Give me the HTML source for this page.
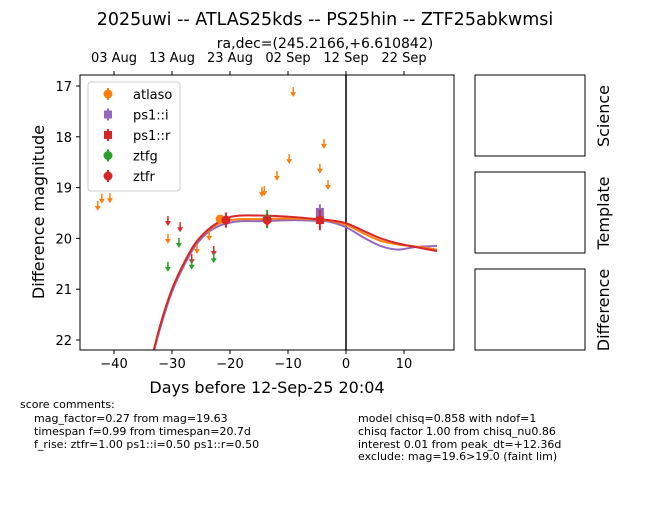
<!DOCTYPE html>
<html><head><meta charset="utf-8"><style>
body{margin:0;background:#fff;}
svg text{font-family:"DejaVu Sans","Liberation Sans",sans-serif;fill:#000;}
</style></head><body>
<svg id="chart" width="650" height="500" viewBox="0 0 650 500">
<text x="325" y="25" font-size="17.5" text-anchor="middle">2025uwi -- ATLAS25kds -- PS25hin -- ZTF25abkwmsi</text>
<text x="325" y="48" font-size="14" text-anchor="middle">ra,dec=(245.2166,+6.610842)</text>
<g id="plot"></g>
<rect x="80" y="75" width="374" height="275" fill="none" stroke="#000" stroke-width="1"/>
<text x="267" y="393" font-size="16" text-anchor="middle">Days before 12-Sep-25 20:04</text>
<text x="44" y="212" font-size="16" text-anchor="middle" transform="rotate(-90 44 212)">Difference magnitude</text>
<g>
<rect x="88" y="82" width="92" height="109" rx="3" fill="#fff" fill-opacity="0.8" stroke="#ccc"/>
</g>
<rect x="475" y="75" width="110" height="81" fill="none" stroke="#000"/>
<rect x="475" y="172" width="110" height="81" fill="none" stroke="#000"/>
<rect x="475" y="269" width="110" height="81" fill="none" stroke="#000"/>
<text x="609" y="116" font-size="16" text-anchor="middle" transform="rotate(-90 609 116)">Science</text>
<text x="609" y="213" font-size="16" text-anchor="middle" transform="rotate(-90 609 213)">Template</text>
<text x="609" y="310" font-size="16" text-anchor="middle" transform="rotate(-90 609 310)">Difference</text>
<g font-size="11">
<text x="20" y="408">score comments:</text>
<text x="34" y="422">mag_factor=0.27 from mag=19.63</text>
<text x="34" y="435">timespan f=0.99 from timespan=20.7d</text>
<text x="34" y="448">f_rise: ztfr=1.00 ps1::i=0.50 ps1::r=0.50</text>
<text x="358" y="422">model chisq=0.858 with ndof=1</text>
<text x="358" y="435">chisq factor 1.00 from chisq_nu0.86</text>
<text x="358" y="448">interest 0.01 from peak_dt=+12.36d</text>
<text x="358" y="460">exclude: mag=19.6&gt;19.0 (faint lim)</text>
</g>
</svg>
<script>
const xTicks=[-40,-30,-20,-10,0,10];
const yTicks=[17,18,19,20,21,22];
const topTickLabels=["03 Aug","13 Aug","23 Aug","02 Sep","12 Sep","22 Sep"];
const atlasLimDays=[-42.8,-42.1,-40.7,-30.7,-25.7,-23.6,-14.5,-14.1,-11.9,-9.8,-9.1,-4.5,-3.8,-3.1];
const atlasLimMags=[19.34,19.2,19.19,19.99,20.19,19.93,19.07,19.05,18.75,18.42,17.1,18.61,18.12,18.93];
const ztfrLimDays=[-30.7,-28.6,-26.6,-22.8];
const ztfrLimMags=[19.64,19.76,20.39,20.23];
const ztfgLimDays=[-30.7,-28.8,-26.6,-22.8];
const ztfgLimMags=[20.54,20.07,20.5,20.37];
const detDays=[-21.7,-20.7,-13.6,-13.6,-4.5,-4.5];
const detMags=[19.62,19.64,19.62,19.64,19.48,19.64];
const detErrs=[0.05,0.15,0.18,0.12,0.15,0.2];
const detBands=["atlaso","ztfr","ztfg","ztfr","ps1::i","ps1::r"];
const modelDays=[-34,-32,-30,-28,-26,-24,-22,-20,-18,-15,-12,-9,-6,-3,0,3,6,9,12,15.7];
const modelR=[22.6,21.7,21.0,20.5,20.1,19.85,19.68,19.58,19.55,19.55,19.56,19.58,19.61,19.64,19.7,19.85,20.0,20.1,20.17,20.25];
const modelO=[22.6,21.7,21.0,20.5,20.1,19.86,19.71,19.64,19.62,19.62,19.61,19.61,19.62,19.65,19.73,19.9,20.05,20.12,20.16,20.22];
const modelI=[22.6,21.75,21.05,20.55,20.15,19.9,19.76,19.69,19.66,19.66,19.65,19.64,19.65,19.67,19.78,19.98,20.15,20.22,20.17,20.15];
const colors={"atlaso":"#ff7f0e","ps1::i":"#9467bd","ps1::r":"#d62728","ztfg":"#2ca02c","ztfr":"#d62728"};
const X=d=>346+d*5.8, Y=m=>86+(m-17)*50.8;
const NS="http://www.w3.org/2000/svg";
const svg=document.getElementById('chart'), g=document.getElementById('plot');
function mk(tag,attrs,parent){const e=document.createElementNS(NS,tag);for(const k in attrs)e.setAttribute(k,attrs[k]);(parent||g).appendChild(e);return e;}
const defs=mk('defs',{},svg);const cp=mk('clipPath',{id:'clip'},defs);mk('rect',{x:80,y:75,width:374,height:275},cp);
g.setAttribute('clip-path','url(#clip)');
xTicks.forEach((t,i)=>{
 const l=mk('line',{x1:X(t),x2:X(t),y1:350,y2:354,stroke:'#000'},svg);
 
 
 const tx=mk('text',{x:X(t),y:368,'font-size':13,'text-anchor':'middle'},svg);tx.textContent=t<0?'\u2212'+(-t):t;
 
 
 const l2=mk('line',{x1:X(t),x2:X(t),y1:75,y2:71,stroke:'#000'},svg);
 
 
 const t2=mk('text',{x:X(t),y:62,'font-size':13,'text-anchor':'middle'},svg);t2.textContent=topTickLabels[i];
 
 
});
yTicks.forEach(t=>{
 const l=mk('line',{x1:76,x2:80,y1:Y(t),y2:Y(t),stroke:'#000'},svg);
 
 
 const tx=mk('text',{x:72,y:Y(t)+5,'font-size':13,'text-anchor':'end'},svg);tx.textContent=t;
 
 
});
const zl=mk('line',{x1:X(0),x2:X(0),y1:75,y2:350,stroke:'#000','stroke-width':1.5});


function curve(days,mags,col,name){
 const pts=days.map((d,i)=>[X(d),Y(mags[i])]);
 let dstr='M'+pts[0][0]+','+pts[0][1];
 for(let i=0;i<pts.length-1;i++){
  const p0=pts[Math.max(0,i-1)],p1=pts[i],p2=pts[i+1],p3=pts[Math.min(pts.length-1,i+2)];
  const c1=[p1[0]+(p2[0]-p0[0])/6,p1[1]+(p2[1]-p0[1])/6];
  const c2=[p2[0]-(p3[0]-p1[0])/6,p2[1]-(p3[1]-p1[1])/6];
  dstr+=` C${c1[0]},${c1[1]} ${c2[0]},${c2[1]} ${p2[0]},${p2[1]}`;
 }
 const p=mk('path',{d:dstr,fill:'none',stroke:col,'stroke-width':2});
 
 
}
curve(modelDays,modelI,'#9467bd','model-ps1-i');
curve(modelDays,modelO,'#ff7f0e','model-atlaso');
curve(modelDays,modelR,'#d62728','model-ztfr');
function lim(days,mags,col,name){
 days.forEach((d,i)=>{
  const x=X(d),y=Y(mags[i]);
  const a=mk('g',{});
  
  
  mk('line',{x1:x,x2:x,y1:y-4,y2:y+3,stroke:col,'stroke-width':1.5},a);
  mk('polygon',{points:`${x-3},${y+1} ${x+3},${y+1} ${x},${y+6}`,fill:col},a);
 });
}
lim(atlasLimDays,atlasLimMags,'#ff7f0e','atlaso-upper-limit');
lim(ztfrLimDays,ztfrLimMags,'#d62728','ztfr-upper-limit');
lim(ztfgLimDays,ztfgLimMags,'#2ca02c','ztfg-upper-limit');
detDays.forEach((d,i)=>{
 const b=detBands[i],col=colors[b],x=X(d),y=Y(detMags[i]),e=detErrs[i]*50.8;
 const gg=mk('g',{});
 
 
 mk('line',{x1:x,x2:x,y1:y-e,y2:y+e,stroke:col,'stroke-width':2},gg);
 if(b.startsWith('ps1'))mk('rect',{x:x-4,y:y-4,width:8,height:8,fill:col},gg);
 else mk('circle',{cx:x,cy:y,r:4.5,fill:col},gg);
});
const legNames=["atlaso","ps1::i","ps1::r","ztfg","ztfr"];
legNames.forEach((n,i)=>{
 const y=94+i*20.5,col=colors[n];
 const gg=mk('g',{},svg);
 
 
 mk('line',{x1:108,x2:108,y1:y-6,y2:y+6,stroke:col,'stroke-width':2},gg);
 if(n.startsWith('ps1'))mk('rect',{x:104,y:y-4,width:8,height:8,fill:col},gg);
 else mk('circle',{cx:108,cy:y,r:4.5,fill:col},gg);
 const t=mk('text',{x:133,y:y+5,'font-size':13},gg);t.textContent=n;
});
</script>
</body></html>
